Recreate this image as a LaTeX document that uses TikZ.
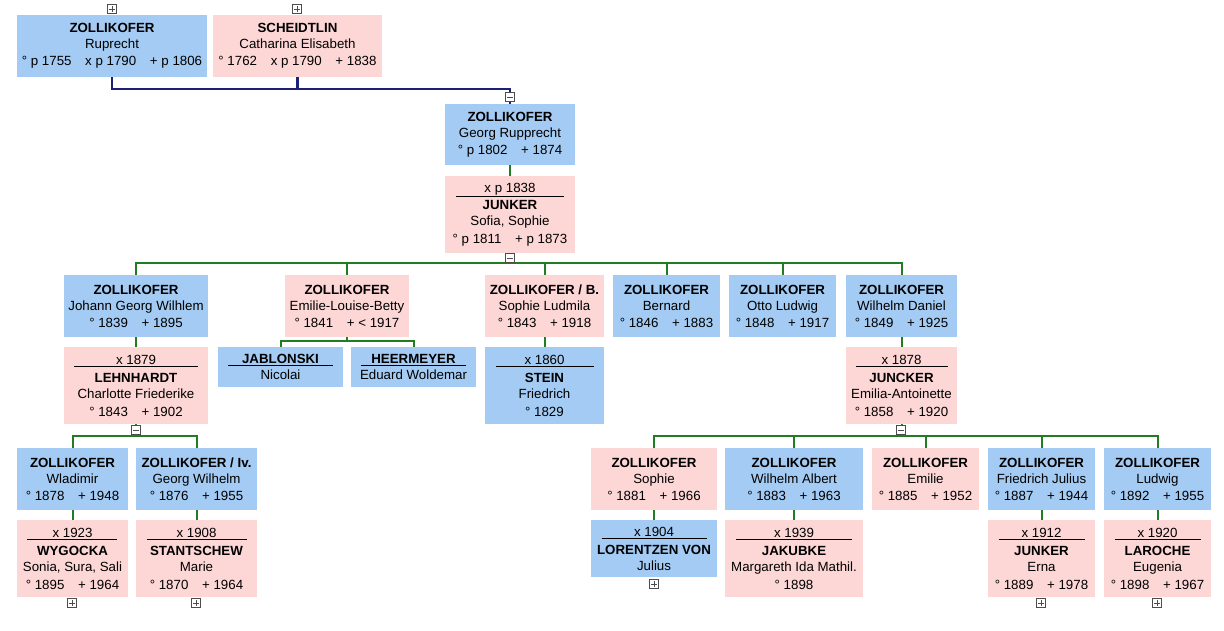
\documentclass[tikz,border=0pt]{standalone}
\usepackage{fontspec}
\setmainfont{Liberation Sans}
\usetikzlibrary{calc}
\definecolor{malefill}{RGB}{163,203,243}
\definecolor{femalefill}{RGB}{253,214,214}
\definecolor{navyline}{RGB}{28,32,118}
\definecolor{greenline}{RGB}{34,124,34}
\newcommand{\mrg}[2]{\underline{\makebox[#1]{#2}}}
\tikzset{
  person/.style={rectangle, inner sep=0pt, anchor=north, align=center,
    font=\fontsize{13.3}{16}\selectfont, minimum height=62pt},
  male/.style={person, fill=malefill},
  female/.style={person, fill=femalefill},
  boxw/.style={minimum width=#1pt},
  boxh/.style={minimum height=#1pt},
  expander/.style={draw=black!70, fill=white, minimum size=9pt, inner sep=0pt, line width=0.6pt},
  plusbox/.style={expander, path picture={
    \draw[line width=0.6pt] (path picture bounding box.center) +(-2.6pt,0) -- +(2.6pt,0);
    \draw[line width=0.6pt] (path picture bounding box.center) +(0,-2.6pt) -- +(0,2.6pt);}},
  minusbox/.style={expander, path picture={
    \draw[line width=0.6pt] (path picture bounding box.center) +(-2.6pt,0) -- +(2.6pt,0);}},
  navy/.style={draw=navyline, line width=2.2pt},
  famline/.style={draw=greenline, line width=2pt}
}
\begin{document}
\begin{tikzpicture}[x=1pt, y=-1pt]
  \useasboundingbox (0,0) rectangle (1224,631);
  % Parents
  \node[male, boxw=190] (ruprecht) at (112,15)
    {\textbf{ZOLLIKOFER}\\ Ruprecht\\[1pt] ° p 1755\hspace{10pt} x p 1790\hspace{10pt} + p 1806};
  \node[female, boxw=169] (scheidtlin) at (297.5,15)
    {\textbf{SCHEIDTLIN}\\ Catharina Elisabeth\\[1pt] ° 1762\hspace{10pt} x p 1790\hspace{10pt} + 1838};
  % Georg Rupprecht and wife
  \node[male, boxw=130, boxh=61] (georg) at (510,104)
    {\textbf{ZOLLIKOFER}\\ Georg Rupprecht\\[1pt] ° p 1802\hspace{10pt} + 1874};
  \node[female, boxw=130, boxh=77] (sofia) at (510,176)
    {\mrg{108pt}{x p 1838}\\[1.5pt] \textbf{JUNKER}\\ Sofia, Sophie\\[2pt] ° p 1811\hspace{10pt} + p 1873};
  % Children of Georg Rupprecht
  \node[male, boxw=144] (johann) at (136,275)
    {\textbf{ZOLLIKOFER}\\ Johann Georg Wilhlem\\[1pt] ° 1839\hspace{10pt} + 1895};
  \node[female, boxw=124] (emilie) at (347,275)
    {\textbf{ZOLLIKOFER}\\ Emilie-Louise-Betty\\[1pt] ° 1841\hspace{10pt} + < 1917};
  \node[female, boxw=119] (sophiel) at (544.5,275)
    {\textbf{ZOLLIKOFER / B.}\\ Sophie Ludmila\\[1pt] ° 1843\hspace{10pt} + 1918};
  \node[male, boxw=107] (bernard) at (666.5,275)
    {\textbf{ZOLLIKOFER}\\ Bernard\\[1pt] ° 1846\hspace{10pt} + 1883};
  \node[male, boxw=107] (otto) at (782.5,275)
    {\textbf{ZOLLIKOFER}\\ Otto Ludwig\\[1pt] ° 1848\hspace{10pt} + 1917};
  \node[male, boxw=111] (wilhelmd) at (901.5,275)
    {\textbf{ZOLLIKOFER}\\ Wilhelm Daniel\\[1pt] ° 1849\hspace{10pt} + 1925};
  % Their spouses
  \node[female, boxw=144, boxh=77] (lehnhardt) at (136,347)
    {\mrg{124pt}{x 1879}\\[1.5pt] \textbf{LEHNHARDT}\\ Charlotte Friederike\\[2pt] ° 1843\hspace{10pt} + 1902};
  \node[male, boxw=125, boxh=40] (jablonski) at (280.5,347)
    {\mrg{105pt}{\textbf{JABLONSKI}}\\ Nicolai};
  \node[male, boxw=125, boxh=40] (heermeyer) at (413.5,347)
    {\mrg{105pt}{\textbf{HEERMEYER}}\\ Eduard Woldemar};
  \node[male, boxw=119, boxh=77] (stein) at (544.5,347)
    {\mrg{98pt}{x 1860}\\[1.5pt] \textbf{STEIN}\\ Friedrich\\[2pt] ° 1829};
  \node[female, boxw=111, boxh=77] (juncker) at (901.5,347)
    {\mrg{92pt}{x 1878}\\[1.5pt] \textbf{JUNCKER}\\ Emilia-Antoinette\\[2pt] ° 1858\hspace{10pt} + 1920};
  % Grandchildren
  \node[male, boxw=111] (wladimir) at (72.5,448)
    {\textbf{ZOLLIKOFER}\\ Wladimir\\[1pt] ° 1878\hspace{10pt} + 1948};
  \node[male, boxw=121] (georgw) at (196.5,448)
    {\textbf{ZOLLIKOFER / Iv.}\\ Georg Wilhelm\\[1pt] ° 1876\hspace{10pt} + 1955};
  \node[female, boxw=126] (sophie) at (654,448)
    {\textbf{ZOLLIKOFER}\\ Sophie\\[1pt] ° 1881\hspace{10pt} + 1966};
  \node[male, boxw=138] (wilhelma) at (794,448)
    {\textbf{ZOLLIKOFER}\\ Wilhelm Albert\\[1pt] ° 1883\hspace{10pt} + 1963};
  \node[female, boxw=107] (emiliez) at (925.5,448)
    {\textbf{ZOLLIKOFER}\\ Emilie\\[1pt] ° 1885\hspace{10pt} + 1952};
  \node[male, boxw=107] (friedrich) at (1041.5,448)
    {\textbf{ZOLLIKOFER}\\ Friedrich Julius\\[1pt] ° 1887\hspace{10pt} + 1944};
  \node[male, boxw=107] (ludwig) at (1157.5,448)
    {\textbf{ZOLLIKOFER}\\ Ludwig\\[1pt] ° 1892\hspace{10pt} + 1955};
  % Spouses of grandchildren
  \node[female, boxw=111, boxh=77] (wygocka) at (72.5,520)
    {\mrg{90pt}{x 1923}\\[1.5pt] \textbf{WYGOCKA}\\ Sonia, Sura, Sali\\[2pt] ° 1895\hspace{10pt} + 1964};
  \node[female, boxw=121, boxh=77] (stantschew) at (196.5,520)
    {\mrg{100pt}{x 1908}\\[1.5pt] \textbf{STANTSCHEW}\\ Marie\\[2pt] ° 1870\hspace{10pt} + 1964};
  \node[male, boxw=126, boxh=57] (lorentzen) at (654,520)
    {\mrg{105pt}{x 1904}\\[1.5pt] \textbf{LORENTZEN VON}\\ Julius};
  \node[female, boxw=138, boxh=77] (jakubke) at (794,520)
    {\mrg{116pt}{x 1939}\\[1.5pt] \textbf{JAKUBKE}\\ Margareth Ida Mathil.\\[2pt] ° 1898};
  \node[female, boxw=107, boxh=77] (erna) at (1041.5,520)
    {\mrg{86pt}{x 1912}\\[1.5pt] \textbf{JUNKER}\\ Erna\\[2pt] ° 1889\hspace{10pt} + 1978};
  \node[female, boxw=107, boxh=77] (laroche) at (1157.5,520)
    {\mrg{86pt}{x 1920}\\[1.5pt] \textbf{LAROCHE}\\ Eugenia\\[2pt] ° 1898\hspace{10pt} + 1967};
  % Connectors
  \draw[navy] (ruprecht.south) -- ++(0,12) -| (georg.north);
  \draw[navy] (scheidtlin.south) -- ++(0,12);
  \draw[famline] (georg.south) -- (sofia.north);
  \draw[famline] (sofia.south) -- ++(0,10) coordinate (bus1);
  \foreach \c in {johann,emilie,sophiel,bernard,otto,wilhelmd}
    \draw[famline] (bus1) -| (\c.north);
  \draw[famline] (johann.south) -- (lehnhardt.north);
  \draw[famline] (sophiel.south) -- (stein.north);
  \draw[famline] (wilhelmd.south) -- (juncker.north);
  \draw[famline] (emilie.south) -- ++(0,4) coordinate (bus2);
  \foreach \c in {jablonski,heermeyer}
    \draw[famline] (bus2) -| (\c.north);
  \draw[famline] (lehnhardt.south) -- ++(0,12) coordinate (bus3);
  \foreach \c in {wladimir,georgw}
    \draw[famline] (bus3) -| (\c.north);
  \draw[famline] (juncker.south) -- ++(0,12) coordinate (bus4);
  \foreach \c in {sophie,wilhelma,emiliez,friedrich,ludwig}
    \draw[famline] (bus4) -| (\c.north);
  \draw[famline] (wladimir.south) -- (wygocka.north);
  \draw[famline] (georgw.south) -- (stantschew.north);
  \draw[famline] (sophie.south) -- (lorentzen.north);
  \draw[famline] (wilhelma.south) -- (jakubke.north);
  \draw[famline] (friedrich.south) -- (erna.north);
  \draw[famline] (ludwig.south) -- (laroche.north);
  % Expand and collapse buttons
  \node[plusbox] (ruprecht-exp) at (112,9) {};
  \node[plusbox] (scheidtlin-exp) at (297,9) {};
  \node[minusbox] (georg-exp) at (510,97) {};
  \node[minusbox] (sofia-exp) at (510,258) {};
  \node[minusbox] (lehnhardt-exp) at (136,430) {};
  \node[minusbox] (juncker-exp) at (901,430) {};
  \node[plusbox] (wygocka-exp) at (72,603) {};
  \node[plusbox] (stantschew-exp) at (196,603) {};
  \node[plusbox] (lorentzen-exp) at (654,584) {};
  \node[plusbox] (erna-exp) at (1041,603) {};
  \node[plusbox] (laroche-exp) at (1157,603) {};
\end{tikzpicture}
\end{document}
